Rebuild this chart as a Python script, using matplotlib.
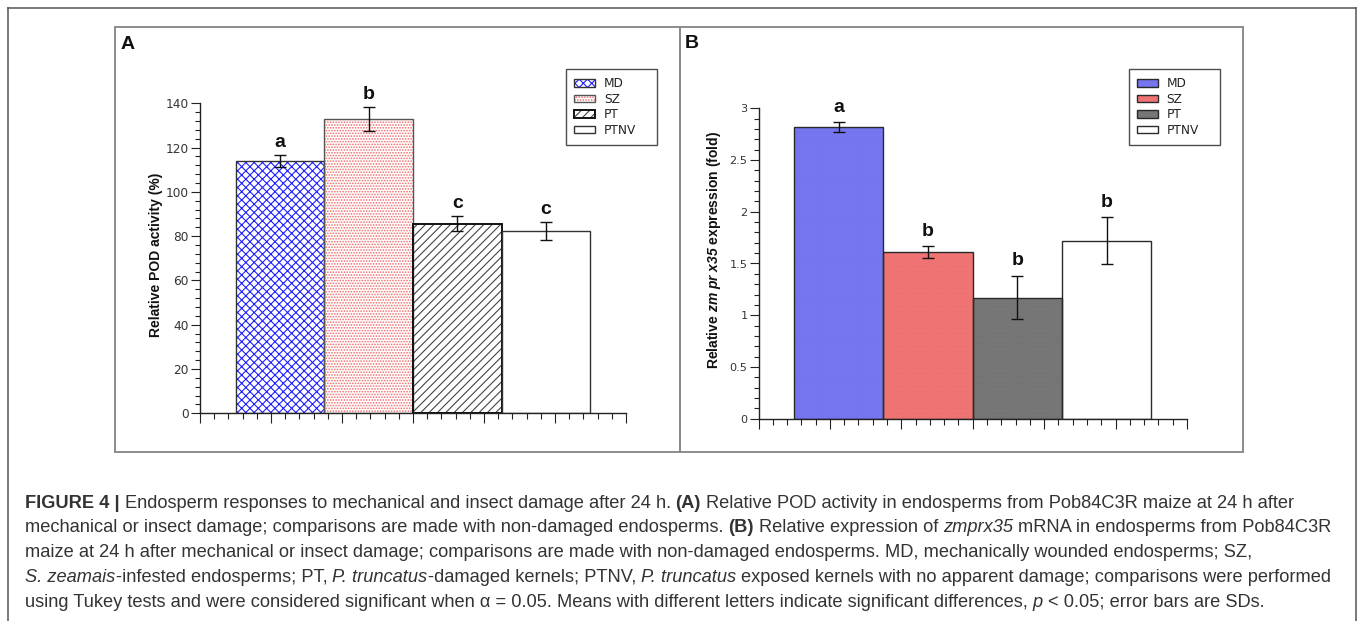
import numpy as np
import matplotlib
matplotlib.use('Agg')
import matplotlib.pyplot as plt
from matplotlib.patches import Rectangle
from matplotlib.lines import Line2D
from matplotlib.legend_handler import HandlerTuple

# ---------------- data ----------------
categories = ['MD', 'SZ', 'PT', 'PTNV']
pod_mean = [114.0, 133.0, 85.7, 82.3]
pod_sd = [2.6, 5.5, 3.3, 4.1]
pod_letters = ['a', 'b', 'c', 'c']
expr_mean = [2.82, 1.61, 1.17, 1.72]
expr_sd = [0.048, 0.056, 0.21, 0.225]
expr_letters = ['a', 'b', 'b', 'b']
pod_yticks = [0, 20, 40, 60, 80, 100, 120, 140]
expr_yticks = [0, 0.5, 1, 1.5, 2, 2.5, 3]
expr_yticklabels = ['0', '0.5', '1', '1.5', '2', '2.5', '3']

# caption: runs of (text, style) ; r = regular, b = bold, i = italic
caption_lines = [
    [("FIGURE 4 |", 'b'),
     (" Endosperm responses to mechanical and insect damage after 24 h.", 'r'),
     (" (A)", 'b'),
     (" Relative POD activity in endosperms from Pob84C3R maize at 24 h after", 'r')],
    [("mechanical or insect damage; comparisons are made with non-damaged endosperms.", 'r'),
     (" (B)", 'b'),
     (" Relative expression of", 'r'),
     (" zmprx35", 'i'),
     (" mRNA in endosperms from Pob84C3R", 'r')],
    [("maize at 24 h after mechanical or insect damage; comparisons are made with "
      "non-damaged endosperms. MD, mechanically wounded endosperms; SZ,", 'r')],
    [("S. zeamais", 'i'),
     ("-infested endosperms; PT,", 'r'),
     (" P. truncatus", 'i'),
     ("-damaged kernels; PTNV,", 'r'),
     (" P. truncatus", 'i'),
     (" exposed kernels with no apparent damage; comparisons were performed", 'r')],
    [("using Tukey tests and were considered significant when α = 0.05. Means with "
      "different letters indicate significant differences,", 'r'),
     (" p", 'i'),
     (" < 0.05; error bars are SDs.", 'r')],
]
caption_right_px = [1325, 1327, 1262, 1330, 1253]

# ---------------- style ----------------
W, H = 1357, 621
plt.rcParams['font.family'] = ['DejaVu Sans']
plt.rcParams['mathtext.fontset'] = 'custom'
plt.rcParams['mathtext.rm'] = 'Liberation Sans'
plt.rcParams['mathtext.it'] = 'Liberation Sans:italic'
plt.rcParams['mathtext.bf'] = 'Liberation Sans:bold'
plt.rcParams['mathtext.bfit'] = 'Liberation Sans:italic:bold'
plt.rcParams['hatch.linewidth'] = 0.8

fig = plt.figure(figsize=(W / 100, H / 100), dpi=100)


def fx(x):
    return x / W


def fy(y):
    return 1 - y / H


# outer frame
for xs, ys in [((8, 1356), (8, 8)), ((8, 8), (8, 640)), ((1356, 1356), (8, 640))]:
    fig.add_artist(Line2D([fx(v) for v in xs], [fy(v) for v in ys],
                          transform=fig.transFigure, color='#555555', lw=1.1))
# panel boxes
for (x0, x1) in [(115, 680), (680, 1243)]:
    fig.add_artist(Rectangle((fx(x0), fy(452)), fx(x1) - fx(x0), fy(27) - fy(452),
                             transform=fig.transFigure, fill=False,
                             ec='#8c8c8c', lw=1.4))

fig.text(fx(121), fy(49), 'A', family='Liberation Sans', fontweight='bold',
         fontsize=14, va='baseline', ha='left', color='#111111')
fig.text(fx(685), fy(48.5), 'B', family='Liberation Sans', fontweight='bold',
         fontsize=14, va='baseline', ha='left', color='#111111')

xpos = 1.125 + 1.25 * np.arange(len(categories))
bw = 1.25


def style_axes(ax, ymax, ymajor, yminor, ylabels, tick_fs):
    ax.set_xlim(0, 6)
    ax.set_ylim(0, ymax)
    for s in ['top', 'right']:
        ax.spines[s].set_visible(False)
    for s in ['left', 'bottom']:
        ax.spines[s].set_linewidth(1.0)
        ax.spines[s].set_color('#222222')
    ax.set_xticks(np.arange(0, 7, 1))
    ax.set_xticks(np.arange(0, 6.001, 0.2), minor=True)
    ax.set_xticklabels([])
    ax.set_yticks(ymajor)
    ax.set_yticklabels(ylabels)
    ax.set_yticks(yminor, minor=True)
    ax.tick_params(axis='x', which='major', direction='out', length=7.5, width=0.8, color='#222222')
    ax.tick_params(axis='x', which='minor', direction='out', length=4.3, width=0.8, color='#222222')
    ax.tick_params(axis='y', which='major', direction='out', length=6.5, width=0.8, color='#222222',
                   labelsize=tick_fs, labelcolor='#333333', pad=1.5)
    ax.tick_params(axis='y', which='minor', direction='out', length=3.6, width=0.8, color='#222222')
    ax.patch.set_alpha(0)


def make_legend(ax, handles, x0, y0, x1, y1):
    leg = ax.legend(handles, categories, loc='upper left',
                    bbox_to_anchor=(fx(x0), fy(y1), fx(x1) - fx(x0), fy(y0) - fy(y1)),
                    bbox_transform=fig.transFigure, mode='expand', fontsize=8.7,
                    frameon=True, fancybox=False, handlelength=1.7, handleheight=0.6,
                    handletextpad=0.75, labelspacing=0.2, borderpad=0.7, borderaxespad=0,
                    handler_map={tuple: HandlerTuple(ndivide=1, pad=0)})
    leg.get_frame().set_edgecolor('#222222')
    leg.get_frame().set_linewidth(1.0)
    for t in leg.get_texts():
        t.set_color('#222222')
    return leg


# ---------------- panel A ----------------
axA = fig.add_axes([fx(200), fy(413.3), fx(626) - fx(200), fy(103.3) - fy(413.3)])
style_axes(axA, 140, pod_yticks, np.arange(0, 140.1, 4), [str(v) for v in pod_yticks], 8.7)

fillsA = ['white', 'white', 'white', 'white']
hatchesA = ['xxxx', '......', '////', '']
hatchcA = ['#1f1fff', '#f26a6a', '#444444', 'white']
edgecA = ['#333333', '#555555', '#111111', '#333333']
edgewA = [1.0, 1.0, 1.4, 1.0]
handlesA = []
for i, cat in enumerate(categories):
    hb = axA.bar(xpos[i], pod_mean[i], bw, color=fillsA[i], hatch=hatchesA[i],
                 edgecolor=hatchcA[i], linewidth=0, zorder=2)
    ob = axA.bar(xpos[i], pod_mean[i], bw, fill=False, edgecolor=edgecA[i],
                 linewidth=edgewA[i], zorder=3)
    handlesA.append((hb[0], ob[0]))
axA.errorbar(xpos, pod_mean, yerr=pod_sd, fmt='none', ecolor='#111111',
             elinewidth=1.0, capsize=4, capthick=1.0, zorder=4)
for i in range(len(categories)):
    axA.annotate(pod_letters[i], (xpos[i], pod_mean[i] + pod_sd[i]), xytext=(0, 5.8),
                 textcoords='offset points', ha='center', va='baseline',
                 family='Liberation Sans', fontweight='bold', fontsize=14, color='#111111')
axA.set_ylabel('Relative POD activity (%)', family='Liberation Sans', fontweight='bold',
               fontsize=10, color='#111111')
axA.yaxis.set_label_coords(-0.087, 0.511)
make_legend(axA, handlesA, 566, 69, 657, 145)

# ---------------- panel B ----------------
axB = fig.add_axes([fx(758.5), fy(418.7), fx(1187) - fx(758.5), fy(108.3) - fy(418.7)])
style_axes(axB, 3, expr_yticks, np.arange(0, 3.001, 0.1), expr_yticklabels, 8.1)

fillsB = ['#7c7cf6', '#f77c7c', '#7d7d7d', 'white']
hatchesB = ['..........', '..........', '..........', '']
hatchcB = ['#6e6ee8', '#e86a6a', '#6e6e6e', 'white']
handlesB = []
for i, cat in enumerate(categories):
    hb = axB.bar(xpos[i], expr_mean[i], bw, color=fillsB[i], hatch=hatchesB[i],
                 edgecolor=hatchcB[i], linewidth=0, zorder=2)
    ob = axB.bar(xpos[i], expr_mean[i], bw, fill=False, edgecolor='#2a2a2a',
                 linewidth=1.0, zorder=3)
    handlesB.append((hb[0], ob[0]))
axB.errorbar(xpos, expr_mean, yerr=expr_sd, fmt='none', ecolor='#111111',
             elinewidth=1.0, capsize=4, capthick=1.0, zorder=4)
for i in range(len(categories)):
    axB.annotate(expr_letters[i], (xpos[i], expr_mean[i] + expr_sd[i]), xytext=(0, 7.5),
                 textcoords='offset points', ha='center', va='baseline',
                 family='Liberation Sans', fontweight='bold', fontsize=14, color='#111111')
axB.set_ylabel(r'Relative $\mathbfit{zm\ pr\ x35}$ expression (fold)', family='Liberation Sans',
               fontweight='bold', fontsize=10, color='#111111')
axB.yaxis.set_label_coords(-0.083, 0.545)
make_legend(axB, handlesB, 1128.5, 69, 1219.5, 146)

# ---------------- caption ----------------
renderer = fig.canvas.get_renderer()
style_kw = {'r': dict(fontweight='normal', fontstyle='normal'),
            'b': dict(fontweight='bold', fontstyle='normal'),
            'i': dict(fontweight='normal', fontstyle='italic')}
cap_x0 = 25
baselines = [507.5 + 24.85 * k for k in range(5)]


def text_w(s, size, st):
    t = fig.text(0, 0, s, family='Liberation Sans', fontsize=size, **style_kw[st])
    w = t.get_window_extent(renderer).width
    t.remove()
    return w


def layout_line(runs, yb, size, draw):
    x = cap_x0
    sp = text_w('x x', size, 'r') - text_w('xx', size, 'r')
    first = True
    for s, st in runs:
        lead = len(s) - len(s.lstrip(' '))
        core = s.strip(' ')
        if not first:
            x += (sp * lead - 0.2) if lead else 0.5
        first = False
        if draw:
            t = fig.text(fx(x), fy(yb), core, family='Liberation Sans', fontsize=size,
                         va='baseline', ha='left', color='#333333', **style_kw[st])
            w = t.get_window_extent(renderer).width
        else:
            w = text_w(core, size, st)
        x += w
    return x


size0 = 12.0
widths = np.array([layout_line(r, 0, size0, False) - cap_x0 for r in caption_lines])
targets = np.array(caption_right_px, dtype=float) - cap_x0
scale = float(np.sum(widths * targets) / np.sum(widths * widths))
cap_size = size0 * scale
for runs, yb in zip(caption_lines, baselines):
    layout_line(runs, yb, cap_size, True)

fig.savefig('out.png', dpi=100)
